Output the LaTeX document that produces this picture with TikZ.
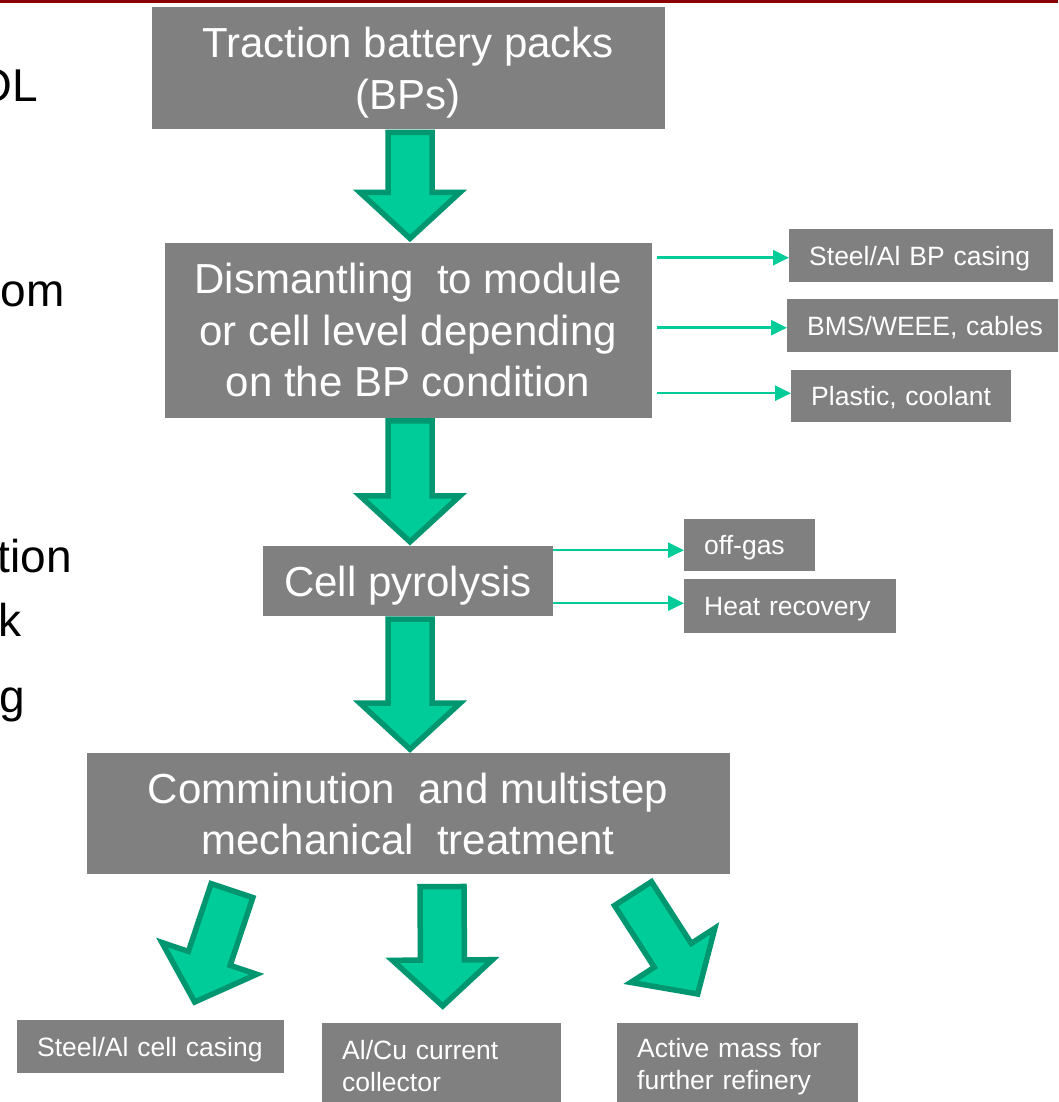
\documentclass[tikz,border=0pt]{standalone}
\usepackage{fontspec}
\setmainfont{Liberation Sans}
\usetikzlibrary{arrows.meta,positioning,calc}

\definecolor{boxgray}{RGB}{128,128,128}
\definecolor{flowgreen}{RGB}{0,204,153}
\definecolor{flowedge}{RGB}{0,150,112}
\definecolor{slidered}{RGB}{139,0,0}

% block arrow from tail #1 to tip #2
\newcommand\fatarrow[2]{%
  \coordinate (hb) at ($(#2)!46pt!(#1)$);
  \draw[fat] ($(#1)!22pt!90:(#2)$) -- ($(hb)!22pt!90:(#2)$)
    -- ($(hb)!50pt!90:(#2)$) -- (#2) -- ($(hb)!50pt!-90:(#2)$)
    -- ($(hb)!22pt!-90:(#2)$) -- ($(#1)!22pt!-90:(#2)$) -- cycle;}

\begin{document}
\begin{tikzpicture}[
  x=1pt, y=-1pt,
  font=\fontsize{42}{51.5}\selectfont,
  stage/.style={fill=boxgray, text=white, align=center, inner sep=0pt},
  outbox/.style={fill=boxgray, text=white, anchor=north west, align=left,
                 inner xsep=20pt, inner ysep=0pt,
                 font=\fontsize{26.5}{32}\selectfont},
  oneline/.style={outbox, text depth=0pt},
  frag/.style={anchor=base east, inner sep=0pt, text=black,
               font=\fontsize{46}{55}\selectfont},
  flowline/.style={draw=flowgreen, line width=2.5pt,
                   -{Triangle[length=16pt, width=15pt]}},
  fat/.style={fill=flowgreen, draw=flowedge, line width=5.5pt, line join=miter},
]
\useasboundingbox (0,0) rectangle (1058,1102);
\clip (0,0) rectangle (1058,1102);
\fill[white] (0,0) rectangle (1058,1102);
\fill[slidered] (0,0) rectangle (1058,3.5);

% cut-off slide text on the left
\node[frag] (fr1) at (38,102) {OL};
\node[frag] (fr2) at (65,306) {om};
\node[frag] (fr3) at (72,572) {tion};
\node[frag] (fr4) at (22,636) {k};
\node[frag] (fr5) at (25,712) {g};

% main chain
\node[stage, anchor=north, minimum width=513pt, minimum height=122pt, text depth=0pt] (bp) at (408,7)
  {Traction battery packs\\(BPs)};
\node[stage, below=113pt of bp, minimum width=487pt, minimum height=175pt] (dis)
  {Dismantling~ to module\\or cell level depending\\on the BP condition};
\node[stage, below=128pt of dis, minimum width=290pt, minimum height=70pt, text depth=0pt] (pyr)
  {Cell pyrolysis};
\node[stage, below=137pt of pyr, minimum width=643pt, minimum height=121pt] (mech)
  {Comminution~ and multistep\\mechanical~ treatment};

% side streams
\node[oneline, text width=224pt, minimum height=53pt] (bpc) at (789,229) {Steel/Al BP casing};
\node[oneline, text width=240pt, minimum height=53pt] (bms) at (787,299) {BMS/WEEE, cables};
\node[oneline, text width=180pt, minimum height=52pt] (pla) at (791,370) {Plastic, coolant};
\node[oneline, text width=91pt, minimum height=52pt] (gas) at (684,519) {off-gas};
\node[oneline, text width=172pt, minimum height=54pt] (heat) at (684,579) {Heat recovery};

% outputs
\node[oneline, text width=227pt, minimum height=53pt] (cas) at (17,1020) {Steel/Al cell casing};
\node[outbox, text width=199pt, minimum height=86pt] (col) at (322,1023) {Al/Cu current\\collector};
\node[outbox, text width=201pt, minimum height=86pt] (act) at (617,1023) {Active mass for\\further refinery};

\draw[flowline] ($(dis.east |- bpc.west)+(5,2)$) -- ($(bpc.west)+(0,2)$);
\draw[flowline] ($(dis.east |- bms.west)+(5,2)$) -- ($(bms.west)+(0,2)$);
\draw[flowline] ($(dis.east |- pla.west)+(5,-3)$) -- ($(pla.west)+(0,-3)$);
\draw[flowline] ($(pyr.east |- gas.west)+(0,5)$) -- ($(gas.west)+(0,5)$);
\draw[flowline] ($(pyr.east |- heat.west)+(0,-3)$) -- ($(heat.west)+(0,-3)$);

\coordinate (t1) at ($(bp.south)+(2,3)$);
\coordinate (h1) at ($(dis.north)+(2,-4)$);
\coordinate (t2) at ($(dis.south)+(2,3)$);
\coordinate (h2) at ($(pyr.north)+(2,-4)$);
\coordinate (t3) at ($(pyr.south)+(2,3)$);
\coordinate (h3) at ($(mech.north)+(2,-4)$);
\coordinate (t4) at ($(mech.south)+(-176,16)$);
\coordinate (h4) at ($(cas.north)+(44,-18)$);
\coordinate (t5) at ($(mech.south)+(34,12)$);
\coordinate (h5) at ($(col.north)+(1,-17)$);
\coordinate (t6) at ($(mech.south)+(225,19)$);
\coordinate (h6) at ($(act.north)+(-40,-29)$);
\fatarrow{t1}{h1}
\fatarrow{t2}{h2}
\fatarrow{t3}{h3}
\fatarrow{t4}{h4}
\fatarrow{t5}{h5}
\fatarrow{t6}{h6}
\end{tikzpicture}
\end{document}
